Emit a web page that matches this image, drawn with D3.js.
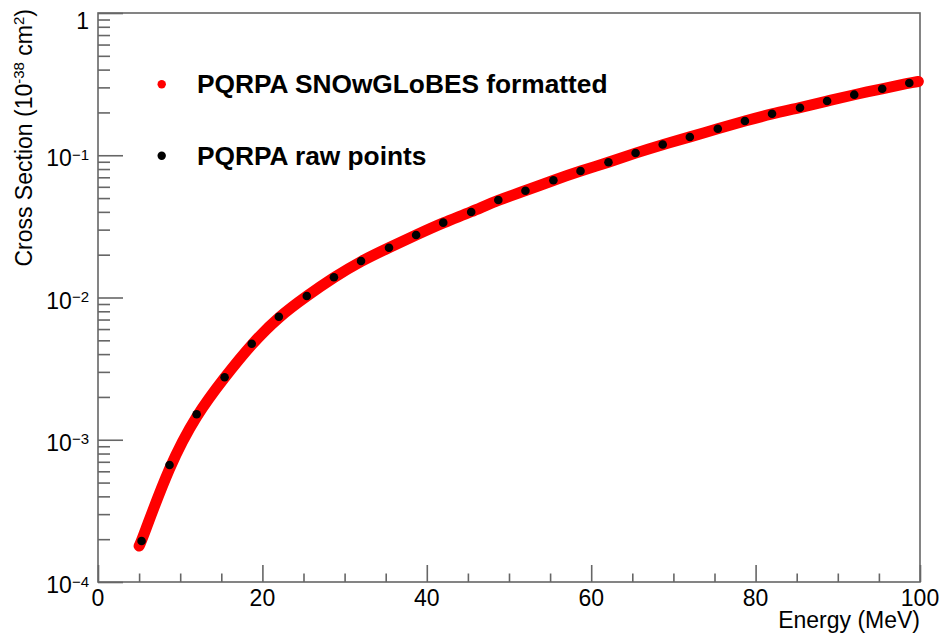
<!DOCTYPE html>
<html>
<head>
<meta charset="utf-8">
<script src="https://cdn.jsdelivr.net/npm/d3@7"></script>
<style>
  body { margin: 0; background: #fff; }
  svg { font-family: "Liberation Sans", Arial, Helvetica, sans-serif; }
</style>
</head>
<body>
<div id="wrapper"></div>
<script>
// raw PQRPA points (MeV, 1e-38 cm^2)
const rawEnergy = [5.3, 8.7, 12.0, 15.4, 18.7, 22.0, 25.4, 28.7, 32.0, 35.4,
  38.7, 42.0, 45.4, 48.7, 52.0, 55.4, 58.7, 62.1, 65.4, 68.7,
  72.0, 75.4, 78.7, 82.0, 85.4, 88.7, 92.0, 95.4, 98.7]
const rawXsec = [1.94e-4, 6.64e-4, 1.51e-3, 2.75e-3, 4.73e-3, 7.33e-3, 1.025e-2, 1.387e-2, 1.806e-2, 2.24e-2,
  2.75e-2, 3.36e-2, 3.99e-2, 4.85e-2, 5.63e-2, 6.67e-2, 7.75e-2, 8.92e-2, 0.1037, 0.1190,
  0.1343, 0.1537, 0.1741, 0.1959, 0.2159, 0.2406, 0.2666, 0.2936, 0.3220]

// SNOwGLoBES formatted curve
const fmtEnergy = [5.0, 5.3, 8.7, 12.0, 15.4, 18.7, 22.0, 25.4, 28.7, 32.0, 35.4,
  38.7, 42.0, 45.4, 48.7, 52.0, 55.4, 58.7, 62.1, 65.4, 68.7,
  72.0, 75.4, 78.7, 82.0, 85.4, 88.7, 92.0, 95.4, 98.7, 99.8]
const fmtXsec = [1.79e-4, 1.94e-4, 6.64e-4, 1.51e-3, 2.75e-3, 4.73e-3, 7.33e-3, 1.025e-2, 1.387e-2, 1.806e-2, 2.24e-2,
  2.75e-2, 3.36e-2, 3.99e-2, 4.85e-2, 5.63e-2, 6.67e-2, 7.75e-2, 8.92e-2, 0.1037, 0.1190,
  0.1343, 0.1537, 0.1741, 0.1959, 0.2159, 0.2406, 0.2666, 0.2936, 0.3220, 0.330]

const xMajor = [0, 20, 40, 60, 80, 100]
const yMajor = [1e-4, 1e-3, 1e-2, 1e-1, 1]
const yLabels = ["10|−4", "10|−3", "10|−2", "10|−1", "1"]
const legendLabels = ["PQRPA SNOwGLoBES formatted", "PQRPA raw points"]

const width = 939
const height = 634
const frame = { left: 98, right: 920, top: 13, bottom: 582 }
const axisColor = "#666"

const svg = d3.select("#wrapper")
  .append("svg")
  .attr("width", width)
  .attr("height", height)

// scales
const xScale = d3.scaleLinear()
  .domain([0, 100])
  .range([frame.left, frame.right])

const yScale = d3.scaleLog()
  .domain([1e-4, 1])
  .range([frame.bottom, frame.top])

// frame
svg.append("rect")
  .attr("x", frame.left)
  .attr("y", frame.top)
  .attr("width", frame.right - frame.left)
  .attr("height", frame.bottom - frame.top)
  .attr("fill", "none")
  .attr("stroke", axisColor)
  .attr("stroke-width", 1.6)

// x ticks (pointing inward)
const xMinor = xScale.ticks(20).filter(d => !xMajor.includes(d))
const xAxisMajor = d3.axisBottom(xScale).tickValues(xMajor).tickSize(-17).tickFormat("").tickSizeOuter(0)
const xAxisMinor = d3.axisBottom(xScale).tickValues(xMinor).tickSize(-8.5).tickFormat("").tickSizeOuter(0)
for (const gen of [xAxisMajor, xAxisMinor]) {
  const g = svg.append("g")
    .attr("transform", `translate(0,${frame.bottom})`)
    .call(gen)
  g.select(".domain").remove()
  g.selectAll("line").attr("stroke", axisColor).attr("stroke-width", 1.6)
}

// y ticks (pointing inward)
const yMinor = yScale.ticks().filter(d => !yMajor.some(m => Math.abs(m - d) / m < 1e-9))
const yAxisMajor = d3.axisLeft(yScale).tickValues(yMajor).tickSize(-25).tickFormat("").tickSizeOuter(0)
const yAxisMinor = d3.axisLeft(yScale).tickValues(yMinor).tickSize(-12).tickFormat("").tickSizeOuter(0)
for (const gen of [yAxisMajor, yAxisMinor]) {
  const g = svg.append("g")
    .attr("transform", `translate(${frame.left},0)`)
    .call(gen)
  g.select(".domain").remove()
  g.selectAll("line").attr("stroke", axisColor).attr("stroke-width", 1.6)
}

// x tick labels
svg.append("g")
  .selectAll("text")
  .data(xMajor)
  .join("text")
  .attr("x", d => xScale(d))
  .attr("y", 606)
  .attr("text-anchor", "middle")
  .style("font-size", "23px")
  .text(d => d)

// y tick labels with superscripts
const yLabelGroup = svg.append("g")
yMajor.forEach((v, i) => {
  const parts = yLabels[i].split("|")
  const isTop = parts.length === 1
  const t = yLabelGroup.append("text")
    .attr("x", 89)
    .attr("y", yScale(v) + (isTop ? 15.5 : 11))
    .attr("text-anchor", "end")
    .style("font-size", "23px")
  t.append("tspan").text(parts[0])
  if (!isTop) {
    t.append("tspan")
      .attr("dy", -6.5)
      .style("font-size", "15px")
      .text(parts[1])
  }
})

// axis titles
svg.append("text")
  .attr("x", frame.right)
  .attr("y", 628)
  .attr("text-anchor", "end")
  .style("font-size", "23px")
  .text("Energy (MeV)")

const yTitle = svg.append("text")
  .attr("transform", "translate(32,9) rotate(-90)")
  .attr("text-anchor", "end")
  .style("font-size", "23px")
yTitle.append("tspan").text("Cross Section (10")
yTitle.append("tspan").attr("dy", -8).style("font-size", "15px").text("-38")
yTitle.append("tspan").attr("dy", 8).text(" cm")
yTitle.append("tspan").attr("dy", -8).style("font-size", "15px").text("2")
yTitle.append("tspan").attr("dy", 8).text(")")

// formatted curve (dense red markers drawn as a thick band)
const fmtData = fmtEnergy.map((e, i) => ({ e, s: fmtXsec[i] }))
const lineGenerator = d3.line()
  .x(d => xScale(d.e))
  .y(d => yScale(d.s))
  .curve(d3.curveBasis)

svg.append("path")
  .attr("d", lineGenerator(fmtData))
  .attr("fill", "none")
  .attr("stroke", "#ff0000")
  .attr("stroke-width", 11)
  .attr("stroke-linecap", "round")
  .attr("stroke-linejoin", "round")

// raw points
const rawData = rawEnergy.map((e, i) => ({ e, s: rawXsec[i] }))
svg.append("g")
  .selectAll("circle")
  .data(rawData)
  .join("circle")
  .attr("cx", d => xScale(d.e))
  .attr("cy", d => yScale(d.s))
  .attr("r", 4.3)
  .attr("fill", "#000")

// legend
const legendColors = ["#ff0000", "#000"]
const legendY = [84.3, 155.7]
const legend = svg.append("g")
legendLabels.forEach((label, i) => {
  legend.append("circle")
    .attr("cx", 161.7)
    .attr("cy", legendY[i])
    .attr("r", 4.2)
    .attr("fill", legendColors[i])
  legend.append("text")
    .attr("x", 197)
    .attr("y", legendY[i] + 9)
    .style("font-size", "26.3px")
    .style("font-weight", "bold")
    .text(label)
})
</script>
</body>
</html>
